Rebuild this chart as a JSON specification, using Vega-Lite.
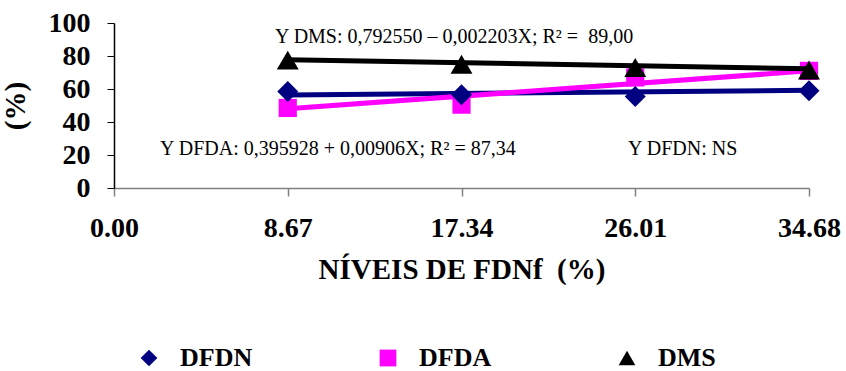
{
  "$schema": "https://vega.github.io/schema/vega-lite/v6.json",
  "autosize": "none",
  "width": 695,
  "height": 165,
  "padding": {"left": 114, "top": 23, "right": 37, "bottom": 183},
  "background": "white",
  "config": {
    "view": {"stroke": null},
    "font": "Liberation Serif",
    "text": {"font": "Liberation Serif"},
    "axis": {"grid": false, "labelFont": "Liberation Serif", "labelFontWeight": "bold", "labelColor": "black", "titleFont": "Liberation Serif", "titleFontWeight": "bold", "titleColor": "black", "labelOverlap": false},
    "legend": {"labelFont": "Liberation Serif", "labelFontWeight": "bold", "labelColor": "black"}
  },
  "datasets": {
    "pts": [
      {"x": 8.67, "y": 48.5, "serie": "DFDA"},
      {"x": 17.34, "y": 50.5, "serie": "DFDA"},
      {"x": 26.01, "y": 67, "serie": "DFDA"},
      {"x": 34.68, "y": 71, "serie": "DFDA"},
      {"x": 8.67, "y": 58.5, "serie": "DFDN"},
      {"x": 17.34, "y": 56.5, "serie": "DFDN"},
      {"x": 26.01, "y": 55.5, "serie": "DFDN"},
      {"x": 34.68, "y": 59, "serie": "DFDN"},
      {"x": 8.67, "y": 77.5, "serie": "DMS"},
      {"x": 17.34, "y": 75, "serie": "DMS"},
      {"x": 26.01, "y": 73, "serie": "DMS"},
      {"x": 34.68, "y": 71.5, "serie": "DMS"}
    ],
    "fits": [
      {"x": 8.67, "y": 56.3, "serie": "DFDN"},
      {"x": 34.68, "y": 59.2, "serie": "DFDN"},
      {"x": 8.67, "y": 48, "serie": "DFDA"},
      {"x": 34.68, "y": 71, "serie": "DFDA"},
      {"x": 8.67, "y": 77.8, "serie": "DMS"},
      {"x": 34.68, "y": 72.2, "serie": "DMS"}
    ],
    "notes": [
      {"x": 8.03, "y": 87.9, "label": "Y DMS: 0,792550 – 0,002203X; R² = \u00a089,00"},
      {"x": 2.3, "y": 20, "label": "Y DFDA: 0,395928 + 0,00906X; R² = 87,34"},
      {"x": 25.65, "y": 20, "label": "Y DFDN: NS"}
    ]
  },
  "encoding": {
    "x": {
      "field": "x", "type": "quantitative",
      "scale": {"domain": [0, 34.68], "nice": false, "zero": true},
      "axis": {
        "values": [0, 8.67, 17.34, 26.01, 34.68], "format": ".2f",
        "title": "NÍVEIS DE FDNf \u00a0(%)", "titleFontSize": 29, "titlePadding": 13,
        "labelFontSize": 28, "labelPadding": 18, "labelFlush": false, "labelOverlap": false, "labelBound": false,
        "tickSize": 8, "tickColor": "#808080", "domainColor": "#808080", "domainWidth": 1.5, "tickWidth": 1.5
      }
    },
    "y": {
      "field": "y", "type": "quantitative",
      "scale": {"domain": [0, 100], "nice": false},
      "axis": {
        "values": [0, 20, 40, 60, 80, 100], "tickCount": 6,
        "title": "(%)", "titleFontSize": 29, "titlePadding": 18,
        "labelFontSize": 28, "labelPadding": 17, "labelOverlap": false, "labelFlush": false, "labelBound": false,
        "tickSize": 7, "tickColor": "black", "domainColor": "black", "domainWidth": 1.5, "tickWidth": 1
      }
    }
  },
  "layer": [
    {
      "data": {"name": "pts"},
      "mark": {"type": "point", "filled": true, "opacity": 1, "size": 330},
      "encoding": {
        "color": {
          "field": "serie", "type": "nominal",
          "scale": {"domain": ["DFDN", "DFDA", "DMS"], "range": ["#000080", "#FF00FF", "#000000"]},
          "legend": {
            "title": null, "orient": "none", "direction": "horizontal", "legendX": 22, "legendY": 322,
            "labelFontSize": 26, "symbolSize": 280, "labelOffset": 18, "columnPadding": 122, "symbolStrokeWidth": 0
          }
        },
        "shape": {
          "field": "serie", "type": "nominal",
          "scale": {"domain": ["DFDN", "DFDA", "DMS"], "range": ["diamond", "square", "triangle-up"]}
        }
      }
    },
    {
      "data": {"name": "fits"},
      "transform": [{"filter": "datum.serie === 'DFDN'"}],
      "mark": {"type": "line", "color": "#000080", "strokeWidth": 5},
      "encoding": {}
    },
    {
      "data": {"name": "fits"},
      "transform": [{"filter": "datum.serie === 'DFDA'"}],
      "mark": {"type": "line", "color": "#FF00FF", "strokeWidth": 5},
      "encoding": {}
    },
    {
      "data": {"name": "fits"},
      "transform": [{"filter": "datum.serie === 'DMS'"}],
      "mark": {"type": "line", "color": "#000000", "strokeWidth": 5},
      "encoding": {}
    },
    {
      "data": {"name": "pts"},
      "transform": [{"filter": "datum.serie === 'DFDN'"}],
      "mark": {"type": "point", "shape": "diamond", "filled": true, "opacity": 1, "size": 440, "color": "#000080"}
    },
    {
      "data": {"name": "pts"},
      "transform": [{"filter": "datum.serie === 'DMS'"}],
      "mark": {"type": "point", "shape": "triangle-up", "filled": true, "opacity": 1, "size": 480, "color": "#000000"}
    },
    {
      "data": {"name": "notes"},
      "mark": {"type": "text", "align": "left", "baseline": "alphabetic", "font": "Liberation Serif", "fontSize": 20, "color": "black"},
      "encoding": {
        "text": {"field": "label", "type": "nominal"}
      }
    }
  ]
}
